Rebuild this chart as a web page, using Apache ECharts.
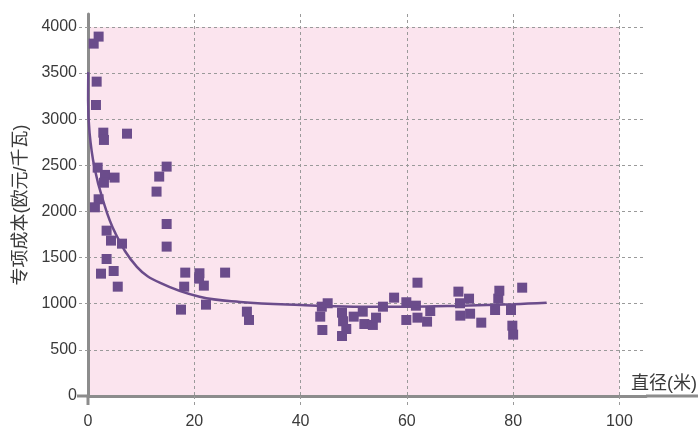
<!DOCTYPE html>
<html>
<head>
<meta charset="utf-8">
<script src="https://cdn.jsdelivr.net/npm/echarts@6/dist/echarts.min.js"></script>
<style>
  html, body { margin: 0; padding: 0; background: #fff; }
  #chart { width: 698px; height: 430px; }
</style>
</head>
<body>
<div id="chart"></div>
<script>
// scatter points: [diameter (m), specific cost (EUR/kW)]
const points = [
  [2.0, 3895], [1.07, 3819], [1.63, 3407], [1.5, 3154], [2.88, 2854], [3.0, 2775],
  [7.34, 2843], [1.82, 2475], [3.2, 2396], [3.0, 2312], [5.0, 2367], [13.4, 2378],
  [14.8, 2486], [12.9, 2215], [2.0, 2132], [1.3, 2045], [14.8, 1864], [14.8, 1619],
  [3.5, 1792], [4.33, 1684], [6.4, 1651], [3.5, 1485], [2.45, 1326], [4.83, 1355],
  [5.6, 1185], [18.3, 1337], [18.1, 1185], [17.5, 936], [20.97, 1330], [20.9, 1272],
  [21.8, 1196], [22.2, 990], [25.8, 1337], [29.9, 914], [30.3, 824], [44.0, 968],
  [43.7, 860], [44.1, 715], [45.1, 1005], [47.8, 903], [48.0, 810], [48.6, 726],
  [47.8, 650], [50.0, 860], [51.7, 914], [52.0, 780], [53.6, 770], [54.2, 849],
  [55.5, 968], [57.6, 1066], [59.9, 1016], [59.9, 824], [61.7, 979], [62.0, 1228],
  [62.0, 849], [63.8, 806], [64.4, 921], [69.7, 1131], [70.0, 1005], [70.06, 871],
  [71.7, 1055], [71.9, 892], [74.0, 795], [76.6, 932], [77.2, 1055], [77.4, 1141],
  [79.6, 932], [79.85, 762], [80.0, 665], [81.7, 1174]
];

// trend curve
const trend = [
  [0.05, 3510], [0.02, 3200], [0.3, 2850], [1.2, 2480], [2.8, 2125], [5.1, 1770],
  [9.2, 1400], [13.6, 1225], [21.0, 1075], [28.6, 1020], [40, 985], [50, 968],
  [60, 968], [70, 978], [80, 995], [86.3, 1011]
];

const xTicks = [0, 20, 40, 60, 80, 100];
const yTicks = [0, 500, 1000, 1500, 2000, 2500, 3000, 3500, 4000];

const chart = echarts.init(document.getElementById('chart'));

const gridLine = { color: '#9a9a9a', type: [3, 3], width: 1 };
const axisColor = '#8c8c8c';
const textColor = '#3a3a3a';
const fontFamily = '"Liberation Sans", "Noto Sans CJK SC", sans-serif';

chart.setOption({
  animation: false,
  grid: { left: 88, top: 14, right: 52, bottom: 34, containLabel: false, outerBoundsMode: 'none' },
  xAxis: {
    type: 'value',
    z: 2,
    min: 0,
    max: 105,
    interval: 20,
    name: '直径(米)',
    nameLocation: 'end',
    nameGap: 51,
    nameTextStyle: {
      color: textColor, fontSize: 18, fontFamily: fontFamily,
      align: 'right', verticalAlign: 'bottom', padding: [0, 0, 3, 0]
    },
    axisLine: { show: true, lineStyle: { color: axisColor, width: 3 } },
    axisTick: { show: true, length: 11, lineStyle: gridLine },
    axisLabel: {
      color: textColor, fontSize: 16, fontFamily: fontFamily, margin: 18,
      showMaxLabel: false,
      formatter: v => (xTicks.indexOf(v) >= 0 ? String(v) : '')
    },
    splitLine: { show: true, showMaxLine: false, lineStyle: gridLine }
  },
  yAxis: {
    type: 'value',
    z: 2,
    min: 0,
    max: 4140,
    interval: 500,
    name: '专项成本(欧元/千瓦)',
    nameLocation: 'middle',
    nameGap: 58,
    nameMoveOverlap: false,
    nameRotate: 90,
    nameTextStyle: { color: textColor, fontSize: 18, fontFamily: fontFamily },
    axisLine: { show: true, lineStyle: { color: axisColor, width: 3 } },
    axisTick: { show: true, length: 10, lineStyle: gridLine },
    axisLabel: {
      color: textColor, fontSize: 16, fontFamily: fontFamily, margin: 11,
      showMaxLabel: false,
      formatter: v => (yTicks.indexOf(v) >= 0 ? String(v) : '')
    },
    splitLine: { show: true, showMaxLine: false, lineStyle: gridLine }
  },
  graphic: [
    { type: 'line', shape: { x1: 646, y1: 396, x2: 698, y2: 396 }, style: { stroke: axisColor, lineWidth: 3 }, z: 10 },
    { type: 'line', shape: { x1: 77, y1: 396, x2: 88, y2: 396 }, style: { stroke: axisColor, lineWidth: 3 }, z: 10 },
    { type: 'line', shape: { x1: 88, y1: 396, x2: 88, y2: 405 }, style: { stroke: axisColor, lineWidth: 3 }, z: 10 }
  ],
  series: [
    {
      // background plot area, kept under the grid lines
      type: 'scatter',
      data: [],
      z: 1,
      silent: true,
      markArea: {
        silent: true,
        itemStyle: { color: '#fbe4ee' },
        data: [[{ coord: [0, 0] }, { coord: [100, 4000] }]]
      }
    },
    {
      type: 'scatter',
      data: points,
      symbol: 'rect',
      symbolSize: 10,
      itemStyle: { color: '#6b4c8b', opacity: 1 },
      z: 3
    },
    {
      type: 'line',
      data: trend,
      smooth: 0.4,
      showSymbol: false,
      lineStyle: { color: '#6b4c8b', width: 2.5 },
      z: 4
    }
  ]
});
</script>
</body>
</html>
